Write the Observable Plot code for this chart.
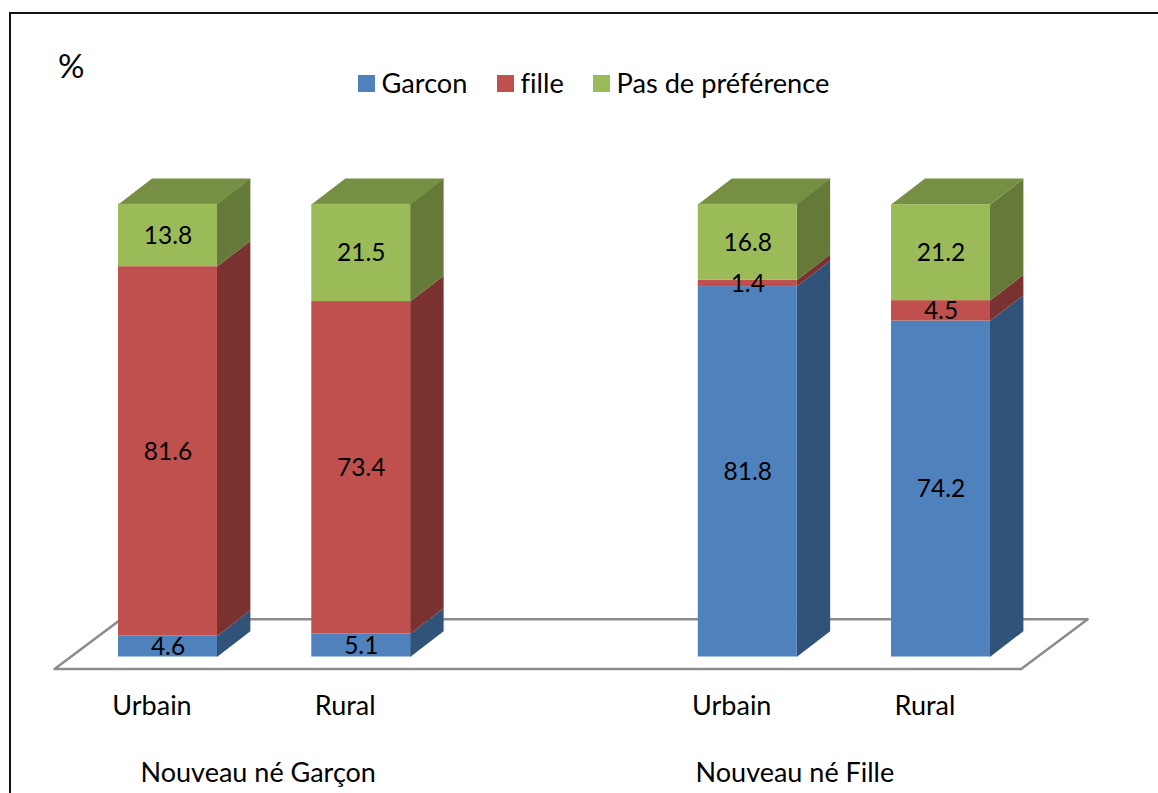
<!DOCTYPE html>
<html lang="fr">
<head>
<meta charset="utf-8">
<script src="https://cdn.jsdelivr.net/npm/d3@7"></script>
<script src="https://cdn.jsdelivr.net/npm/@observablehq/plot@0.6"></script>
<style>
html,body{margin:0;padding:0;background:#fff;overflow:hidden}
#page{position:relative;width:1158px;height:793px;font-family:Lato,"Open Sans",sans-serif;color:#000;font-variant-ligatures:none}
#frame{position:absolute;left:9px;top:12px;right:0;bottom:0;border-left:2px solid #111;border-top:2px solid #111}
#pct{position:absolute;left:58px;top:45px;font-size:33px;line-height:40px}
.key{position:absolute;top:75px;width:17px;height:17px}
.lab{position:absolute;top:66px;font-size:27.2px;line-height:34px;white-space:nowrap}
svg{position:absolute;left:0;top:0}
svg text{font-variant-ligatures:none}
</style>
</head>
<body>
<div id="page">
<div id="frame"></div>
<div id="chart"></div>
<div id="pct">%</div>
<div id="legend"></div>
</div>
<script>
const categories = ["Urbain", "Rural", "Urbain", "Rural"];
const slots = [0, 1, 3, 4];
const groups = ["Nouveau né Garçon", "Nouveau né Fille"];
const groupAnchors = [-0.142, 2.73];
const seriesNames = ["Garcon", "fille", "Pas de préférence"];
const garcon = [4.6, 5.1, 81.8, 74.2];
const fille = [81.6, 73.4, 1.4, 4.5];
const pasDePreference = [13.8, 21.5, 16.8, 21.2];
const frontColors = ["#4F81BD", "#C0504D", "#9BBB59"];
const sideColors = ["#315379", "#7A3230", "#657A38"];
const topColor = "#778F45";

const series = [garcon, fille, pasDePreference];
const halfBar = 0.256, depthX = 0.1734, depthY = 5.7;
const segments = [];
categories.forEach((cat, i) => {
  let base = 0;
  series.forEach((vals, s) => {
    segments.push({slot: slots[i], y0: base, y1: base + vals[i], value: vals[i], s});
    base += vals[i];
  });
});
const sidePolys = segments.flatMap((d, k) => {
  const xr = d.slot + halfBar - 0.003;
  return [[xr, d.y0], [xr + depthX, d.y0 + depthY], [xr + depthX, d.y1 + depthY], [xr, d.y1]]
    .map(([x, y]) => ({x, y, id: k, c: sideColors[d.s]}));
});
const topPolys = slots.flatMap((slot, k) => {
  const xl = slot - halfBar, xr = slot + halfBar;
  return [[xl, 100], [xr, 100], [xr + depthX, 100 + depthY], [xl + depthX, 100 + depthY]]
    .map(([x, y]) => ({x, y, id: k}));
});
const floor = [[-0.587, -2.65], [4.415, -2.65], [4.759, 8.35], [-0.243, 8.35]].map(([x, y]) => ({x, y}));
const axisLabels = categories.map((c, i) => ({c, slot: slots[i]}));
const groupLabels = groups.map((g, i) => ({g, x: groupAnchors[i]}));

const chart = Plot.plot({
  width: 1158, height: 793, margin: 0,
  style: {background: "transparent", fontFamily: "Lato, 'Open Sans', sans-serif", color: "#000"},
  x: {domain: [0, 4], range: [167.5, 940.5], axis: null},
  y: {domain: [0, 100], range: [656.5, 203.7], axis: null},
  color: {type: "identity"},
  marks: [
    Plot.line(floor, {x: "x", y: "y", curve: "linear-closed", stroke: "#8C8C8C", strokeWidth: 2.5, fill: "none"}),
    Plot.line(sidePolys, {x: "x", y: "y", z: "id", fill: "c", stroke: null, curve: "linear-closed"}),
    Plot.line(topPolys, {x: "x", y: "y", z: "id", fill: topColor, stroke: null, curve: "linear-closed"}),
    Plot.rect(segments, {
      x1: d => d.slot - halfBar, x2: d => d.slot + halfBar,
      y1: "y0", y2: "y1", fill: d => frontColors[d.s]
    }),
    Plot.text(segments, {
      x: "slot", y: d => (d.y0 + d.y1) / 2, dy: 0.5, text: d => d.value.toFixed(1),
      fontSize: 24.5, fill: "#000", textAnchor: "middle", lineAnchor: "middle"
    }),
    Plot.text(axisLabels, {x: "slot", y: () => -10.9, dx: -16, text: "c", fontSize: 27, fill: "#000", lineAnchor: "middle"}),
    Plot.text(groupLabels, {x: "x", y: () => -25.8, text: "g", fontSize: 27, fill: "#000", textAnchor: "start", lineAnchor: "middle"})
  ]
});
document.getElementById("chart").append(chart);

const legendLefts = [358, 497, 593];
const legend = document.getElementById("legend");
seriesNames.forEach((name, i) => {
  const k = document.createElement("div");
  k.className = "key"; k.style.left = legendLefts[i] + "px"; k.style.background = frontColors[i];
  const t = document.createElement("div");
  t.className = "lab"; t.style.left = (legendLefts[i] + 23.5) + "px"; t.textContent = name;
  legend.append(k, t);
});
</script>
</body>
</html>
